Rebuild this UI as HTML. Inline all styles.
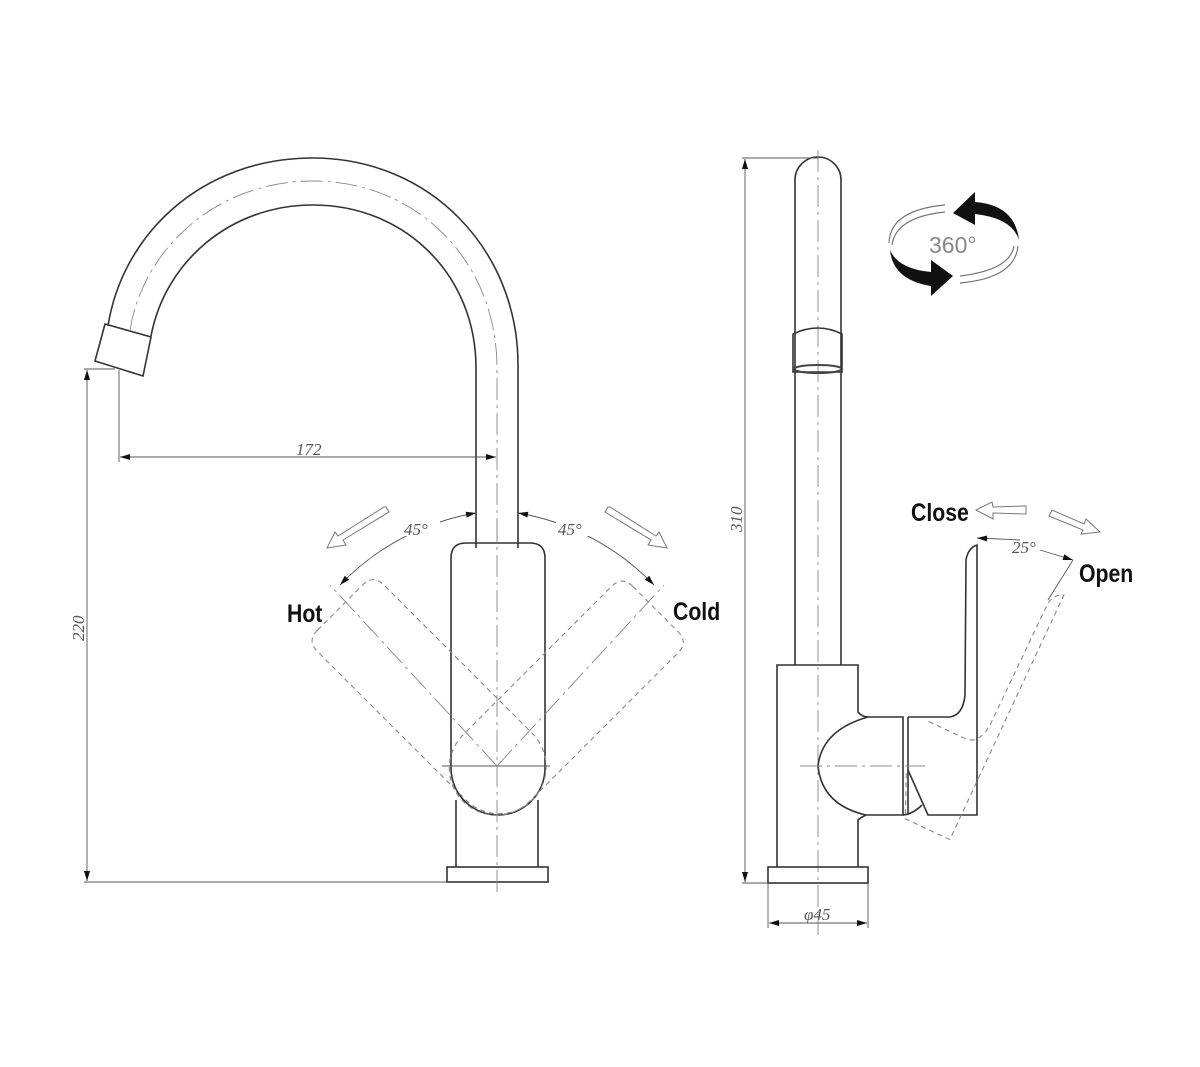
<!DOCTYPE html>
<html><head><meta charset="utf-8"><style>
html,body{margin:0;padding:0;background:#fff;}
svg{display:block;}
.l{fill:none;stroke:#333;stroke-width:1.6;}
.t{fill:none;stroke:#555;stroke-width:0.9;}
.c{fill:none;stroke:#888;stroke-width:0.9;stroke-dasharray:22 5 3 5;}
.d{fill:none;stroke:#888;stroke-width:1.1;stroke-dasharray:5 4;}
.lab{font-family:"Liberation Sans",sans-serif;font-weight:bold;font-size:25px;fill:#111;}
.dim{font-family:"Liberation Serif",serif;font-style:italic;font-size:17px;fill:#555;}
.ha{fill:#fff;stroke:#777;stroke-width:1;}
</style></head><body>
<svg width="1200" height="1067" viewBox="0 0 1200 1067" xmlns="http://www.w3.org/2000/svg">
<defs>
<marker id="ar" viewBox="0 0 10 6" refX="10" refY="3" markerWidth="14" markerHeight="6" markerUnits="userSpaceOnUse" orient="auto-start-reverse"><path d="M0,0 L10,3 L0,6 z" fill="#111"/></marker>
</defs>

<!-- LEFT VIEW -->
<path class="l" d="M518,548 L518,365 C518,250 430,158 313,158 C200,158 122,236 108,326"/>
<path class="l" d="M476,548 L476,368 C476,275 405,205 313,205 C230,205 165,262 151,336"/>
<path class="c" d="M497,540 L497,368 C497,262 418,181 313,181 C215,181 143,250 130,330"/>
<path class="l" d="M105,324 L151,337 L143,376 L95,361 Z"/>
<path class="l" d="M466,543 L530,543 Q545,543 545,558 L545,768 A47,47 0 0 1 451,768 L451,558 Q451,543 466,543 Z"/>
<path class="l" d="M456,800 L456,867 M538,800 L538,867"/>
<rect class="l" x="447" y="867" width="101" height="15"/>
<line class="t" x1="442" y1="766" x2="550" y2="766"/>
<line class="c" x1="497" y1="520" x2="497" y2="895"/>
<g transform="rotate(-45 497 766)"><path class="d" d="M466,543 L530,543 Q545,543 545,558 L545,768 A47,47 0 0 1 451,768 L451,558 Q451,543 466,543 Z"/></g>
<g transform="rotate(45 497 766)"><path class="d" d="M466,543 L530,543 Q545,543 545,558 L545,768 A47,47 0 0 1 451,768 L451,558 Q451,543 466,543 Z"/></g>
<line class="c" x1="497" y1="766" x2="330" y2="585"/>
<line class="c" x1="497" y1="766" x2="664" y2="585"/>
<path class="t" d="M340,585 A245,245 0 0 1 476,513" marker-start="url(#ar)" marker-end="url(#ar)"/>
<path class="t" d="M654,585 A245,245 0 0 0 518,513" marker-start="url(#ar)" marker-end="url(#ar)"/>
<rect x="400" y="514" width="40" height="22" fill="#fff"/>
<rect x="556" y="514" width="40" height="22" fill="#fff"/>
<text class="dim" x="404" y="535">45°</text>
<text class="dim" x="558" y="535">45°</text>
<path class="ha" d="M386,507 L389,512 L343,540 L346,545 L327,548 L335,532 L338,536 L384,507 Z"/>
<path class="ha" d="M608,507 L605,512 L651,540 L648,545 L667,548 L659,532 L656,536 L610,507 Z"/>
<text class="lab" x="287" y="622" transform="translate(287 0) scale(0.85 1) translate(-287 0)">Hot</text>
<text class="lab" x="673" y="620" transform="translate(673 0) scale(0.85 1) translate(-673 0)">Cold</text>
<line class="t" x1="119" y1="370" x2="119" y2="462"/>
<line class="t" x1="120" y1="457" x2="496" y2="457" marker-start="url(#ar)" marker-end="url(#ar)"/>
<text class="dim" x="296" y="455">172</text>
<line class="t" x1="84" y1="369" x2="115" y2="369"/>
<line class="t" x1="84" y1="882" x2="447" y2="882"/>
<line class="t" x1="87" y1="370" x2="87" y2="881" marker-start="url(#ar)" marker-end="url(#ar)"/>
<text class="dim" x="0" y="0" transform="translate(84 641) rotate(-90)">220</text>

<!-- RIGHT VIEW -->
<path class="l" d="M795,665 L795,180 A23,23 0 0 1 841,180 L841,665"/>
<line class="c" x1="818" y1="150" x2="818" y2="935"/>
<path class="l" d="M793,334 Q818,322 842,334 L842,372 L793,372 Z"/>
<ellipse cx="818" cy="369" rx="24" ry="4" fill="none" stroke="#444" stroke-width="2"/>
<path class="l" d="M777,867 L777,665 L858,665 L858,712 Q862,717 868,717 L903,717 L903,815 L866,815 Q860,818 858,820 L858,867"/>
<path class="l" d="M868,717 Q822,730 818,766 Q822,805 866,815"/>
<path class="l" d="M908,717 L908,815 M903,815 Q913,814 922,805"/>
<path class="l" d="M908,717 L950,717 Q963,715 965,695 L966,560 Q968,548 977,545 L977,815 L928,815 L908,770"/>
<rect class="l" x="768" y="867" width="100" height="16"/>
<line class="c" x1="800" y1="766" x2="925" y2="766"/>
<g transform="rotate(25 908 766)"><path class="d" d="M908,717 L950,717 Q963,715 965,695 L966,560 Q968,548 977,545 L977,815 L928,815 L908,770"/></g>
<line class="t" x1="977" y1="538" x2="1020" y2="540" marker-start="url(#ar)"/>
<line class="t" x1="1040" y1="550" x2="1073" y2="560" marker-end="url(#ar)"/>
<line class="t" x1="1073" y1="560" x2="1048" y2="600"/>
<text class="dim" x="1012" y="553">25°</text>
<path class="ha" d="M1026,506 L1026,514 L993,513 L993,519 L976,510 L992,502 L993,507 Z"/>
<path class="ha" d="M1049,516 L1052,510 L1084,524 L1086,519 L1100,532 L1081,534 L1083,530 Z"/>
<text class="lab" x="911" y="521" transform="translate(911 0) scale(0.85 1) translate(-911 0)">Close</text>
<text class="lab" x="1079" y="582" transform="translate(1079 0) scale(0.85 1) translate(-1079 0)">Open</text>
<line class="t" x1="742" y1="158" x2="818" y2="158"/>
<line class="t" x1="742" y1="883" x2="768" y2="883"/>
<line class="t" x1="745" y1="159" x2="745" y2="882" marker-start="url(#ar)" marker-end="url(#ar)"/>
<text class="dim" x="0" y="0" transform="translate(742 532) rotate(-90)">310</text>
<line class="t" x1="768" y1="883" x2="768" y2="928"/>
<line class="t" x1="868" y1="883" x2="868" y2="928"/>
<line class="t" x1="769" y1="923" x2="867" y2="923" marker-start="url(#ar)" marker-end="url(#ar)"/>
<text class="dim" x="804" y="920">φ45</text>
<path fill="none" stroke="#777" stroke-width="1.2" d="M945,205 Q890,210 889,243 M945,212 Q896,217 892,245"/>
<path fill="none" stroke="#777" stroke-width="1.2" d="M960,283 Q1015,278 1018,246 M960,276 Q1010,270 1014,246"/>
<path fill="#111" d="M953,213 L975,192 L975,202 Q1015,205 1019,240 Q1012,218 975,214 L975,225 Z"/>
<path fill="#111" d="M953,276 L931,296 L931,286 Q893,280 890,250 Q898,269 931,272 L931,260 Z"/>
<text x="929" y="253" font-family="Liberation Sans,sans-serif" font-size="23" fill="#888">360°</text>
</svg>
</body></html>
